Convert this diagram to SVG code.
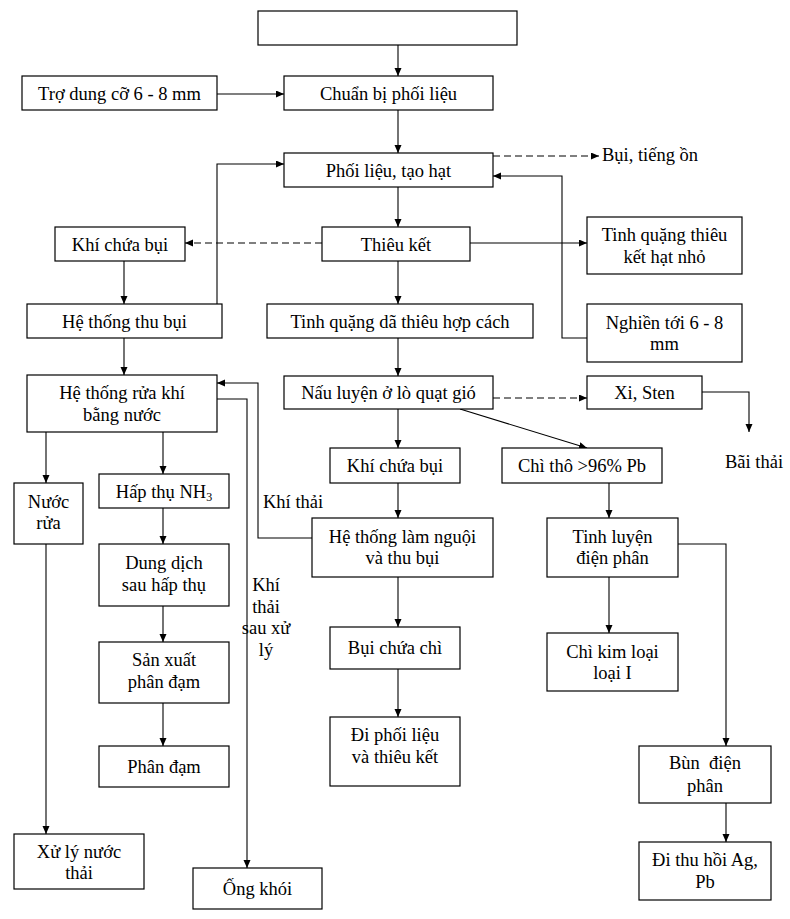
<svg xmlns="http://www.w3.org/2000/svg" width="790" height="919" viewBox="0 0 790 919">
<style>
.b{fill:#fff;stroke:#000;stroke-width:1.2}
.t{font-family:"Liberation Serif","Times New Roman",serif;font-size:18.5px;fill:#000;text-anchor:middle}
.l{font-family:"Liberation Serif","Times New Roman",serif;font-size:18.5px;fill:#000}
.c{fill:none;stroke:#000;stroke-width:1.1}
.d{stroke-dasharray:7 4}
</style>
<defs>
<marker id="a" markerWidth="9" markerHeight="8" refX="8" refY="3.5" orient="auto" markerUnits="userSpaceOnUse">
<path d="M0,0 L8,3.5 L0,7 z" fill="#000"/>
</marker>
</defs>
<rect width="790" height="919" fill="#fff"/>
<g id="connectors">
<path class="c" d="M398,45 V76" marker-end="url(#a)"/>
<path class="c" d="M217,94 H284" marker-end="url(#a)"/>
<path class="c" d="M398,110 V153" marker-end="url(#a)"/>
<path class="c" d="M398,187 V227" marker-end="url(#a)"/>
<path class="c d" d="M493,156 H599" marker-end="url(#a)"/>
<path class="c" d="M217,304 V164 H284" marker-end="url(#a)"/>
<path class="c" d="M587,338 H562 V176 H493" marker-end="url(#a)"/>
<path class="c" d="M470,243 H587" marker-end="url(#a)"/>
<path class="c d" d="M322,243 H185" marker-end="url(#a)"/>
<path class="c" d="M124,261 V304" marker-end="url(#a)"/>
<path class="c" d="M124,338 V375" marker-end="url(#a)"/>
<path class="c" d="M398,261 V304" marker-end="url(#a)"/>
<path class="c" d="M398,338 V376" marker-end="url(#a)"/>
<path class="c d" d="M493,398 H587" marker-end="url(#a)"/>
<path class="c" d="M702,392 H749 V432" marker-end="url(#a)"/>
<path class="c" d="M460,409 L587,448" marker-end="url(#a)"/>
<path class="c" d="M398,409 V448" marker-end="url(#a)"/>
<path class="c" d="M398,483 V518" marker-end="url(#a)"/>
<path class="c" d="M398,577 V627" marker-end="url(#a)"/>
<path class="c" d="M398,669 V717" marker-end="url(#a)"/>
<path class="c" d="M312,538 H258 V383 H217" marker-end="url(#a)"/>
<path class="c" d="M217,399 H247 V868" marker-end="url(#a)"/>
<path class="c" d="M46,432 V483" marker-end="url(#a)"/>
<path class="c" d="M163,432 V474" marker-end="url(#a)"/>
<path class="c" d="M46,544 V834" marker-end="url(#a)"/>
<path class="c" d="M163,508 V544" marker-end="url(#a)"/>
<path class="c" d="M163,606 V642" marker-end="url(#a)"/>
<path class="c" d="M163,703 V746" marker-end="url(#a)"/>
<path class="c" d="M609,483 V518" marker-end="url(#a)"/>
<path class="c" d="M609,577 V633" marker-end="url(#a)"/>
<path class="c" d="M678,544 H726 V746" marker-end="url(#a)"/>
<path class="c" d="M726,803 V842" marker-end="url(#a)"/>
</g>
<g id="labels">
<text class="l" x="602" y="161">Bụi, tiếng ồn</text>
<text class="l" x="725" y="468">Bãi thải</text>
<text class="l" x="263" y="508">Khí thải</text>
<text class="t" x="266" y="591">Khí</text>
<text class="t" x="266" y="613">thải</text>
<text class="t" x="266" y="634">sau xử</text>
<text class="t" x="266" y="656">lý</text>
</g>
<g id="n-top"><rect class="b" x="258" y="11" width="259" height="34"/></g>
<g id="n-trodung"><rect class="b" x="22" y="76" width="195" height="34"/><text class="t" x="119.5" y="100">Trợ dung cỡ 6 - 8 mm</text></g>
<g id="n-chuanbi"><rect class="b" x="284" y="76" width="209" height="34"/><text class="t" x="388.5" y="100">Chuẩn bị phối liệu</text></g>
<g id="n-phoilieu"><rect class="b" x="284" y="153" width="209" height="34"/><text class="t" x="388.5" y="177">Phối liệu, tạo hạt</text></g>
<g id="n-thieuket"><rect class="b" x="322" y="227" width="148" height="34"/><text class="t" x="396" y="251">Thiêu kết</text></g>
<g id="n-khibui1"><rect class="b" x="55" y="227" width="130" height="34"/><text class="t" x="120" y="251">Khí chứa bụi</text></g>
<g id="n-tinhquang"><rect class="b" x="587" y="217" width="155" height="57"/><text class="t" x="664.5" y="241">Tinh quặng thiêu</text><text class="t" x="664.5" y="263">kết hạt nhỏ</text></g>
<g id="n-nghien"><rect class="b" x="587" y="304" width="155" height="58"/><text class="t" x="664.5" y="329">Nghiền tới 6 - 8</text><text class="t" x="664.5" y="350">mm</text></g>
<g id="n-thubui"><rect class="b" x="27" y="304" width="195" height="34"/><text class="t" x="124.5" y="328">Hệ thống thu bụi</text></g>
<g id="n-tinhquangda"><rect class="b" x="267" y="304" width="266" height="34"/><text class="t" x="400" y="328">Tinh quặng dã thiêu hợp cách</text></g>
<g id="n-nauluyen"><rect class="b" x="284" y="376" width="209" height="33"/><text class="t" x="388.5" y="399">Nấu luyện ở lò quạt gió</text></g>
<g id="n-xi"><rect class="b" x="587" y="376" width="115" height="33"/><text class="t" x="644.5" y="399">Xi, Sten</text></g>
<g id="n-ruakhi"><rect class="b" x="27" y="375" width="190" height="57"/><text class="t" x="122" y="399">Hệ thống rửa khí</text><text class="t" x="122" y="421">bằng nước</text></g>
<g id="n-khibui2"><rect class="b" x="330" y="448" width="130" height="35"/><text class="t" x="395" y="472">Khí chứa bụi</text></g>
<g id="n-chitho"><rect class="b" x="502" y="448" width="160" height="35"/><text class="t" x="582" y="472">Chì thô &gt;96% Pb</text></g>
<g id="n-nuocrua"><rect class="b" x="14" y="483" width="69" height="61"/><text class="t" x="48.5" y="508">Nước</text><text class="t" x="48.5" y="529">rửa</text></g>
<g id="n-hapthu"><rect class="b" x="99" y="474" width="130" height="34"/><text class="t" x="164" y="498">Hấp thụ NH<tspan font-size="12" dy="3">3</tspan></text></g>
<g id="n-lamnguoi"><rect class="b" x="312" y="518" width="181" height="59"/><text class="t" x="402.5" y="543">Hệ thống làm nguội</text><text class="t" x="402.5" y="564">và thu bụi</text></g>
<g id="n-tinhluyen"><rect class="b" x="547" y="518" width="131" height="59"/><text class="t" x="612.5" y="543">Tinh luyện</text><text class="t" x="612.5" y="564">điện phân</text></g>
<g id="n-dungdich"><rect class="b" x="99" y="544" width="130" height="62"/><text class="t" x="164" y="569">Dung dịch</text><text class="t" x="164" y="591">sau hấp thụ</text></g>
<g id="n-buichi"><rect class="b" x="330" y="627" width="130" height="42"/><text class="t" x="395" y="654">Bụi chứa chì</text></g>
<g id="n-chikimloai"><rect class="b" x="547" y="633" width="131" height="58"/><text class="t" x="612.5" y="658">Chì kim loại</text><text class="t" x="612.5" y="679">loại I</text></g>
<g id="n-sanxuat"><rect class="b" x="99" y="642" width="130" height="61"/><text class="t" x="164" y="666">Sản xuất</text><text class="t" x="164" y="688">phân đạm</text></g>
<g id="n-diphoilieu"><rect class="b" x="330" y="717" width="130" height="69"/><text class="t" x="395" y="741">Đi phối liệu</text><text class="t" x="395" y="763">và thiêu kết</text></g>
<g id="n-phandam"><rect class="b" x="99" y="746" width="130" height="41"/><text class="t" x="164" y="773">Phân đạm</text></g>
<g id="n-bun"><rect class="b" x="639" y="746" width="132" height="57"/><text class="t" x="705" y="769" xml:space="preserve">Bùn  điện</text><text class="t" x="705" y="792">phân</text></g>
<g id="n-xulynuoc"><rect class="b" x="14" y="834" width="130" height="55"/><text class="t" x="79" y="858">Xử lý nước</text><text class="t" x="79" y="879">thải</text></g>
<g id="n-thuhoi"><rect class="b" x="639" y="842" width="132" height="58"/><text class="t" x="705" y="866">Đi thu hồi Ag,</text><text class="t" x="705" y="888">Pb</text></g>
<g id="n-ongkhoi"><rect class="b" x="193" y="868" width="129" height="41"/><text class="t" x="257.5" y="895">Ống khói</text></g>
</svg>
